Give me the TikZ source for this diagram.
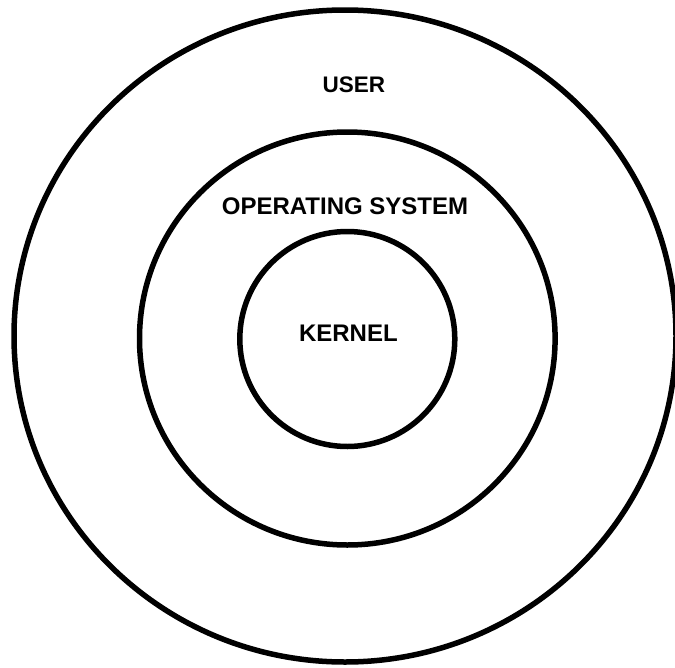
\documentclass[tikz,border=0pt]{standalone}
\usepackage{fontspec}
\setmainfont{Liberation Sans}
\begin{document}
\begin{tikzpicture}[x=1pt,y=-1pt,
  ring/.style={draw=black,line width=5.5pt},
  layer/.style={font=\bfseries\fontsize{24}{24}\selectfont,inner sep=0pt,anchor=center}]
  \useasboundingbox (0,0) rectangle (675,667);
  % centres of the three rings
  \coordinate (outerc) at (345,336);
  \coordinate (midc) at (347.3,338.5);
  \coordinate (innerc) at (347.3,339);
  % rings, from the outside in
  \draw[ring] (outerc) ellipse [x radius=331, y radius=326];
  \draw[ring] (midc) ellipse [x radius=207.8, y radius=206.5];
  \draw[ring] (innerc) circle [radius=107.5];
  % layer names
  \node[layer,font=\bfseries\fontsize{22.5}{22.5}\selectfont] (user) at (353.8,84.7) {USER};
  \node[layer] (os) at (345,206.5) {OPERATING SYSTEM};
  \node[layer] (kernel) at (348.4,333.5) {KERNEL};
\end{tikzpicture}
\end{document}
